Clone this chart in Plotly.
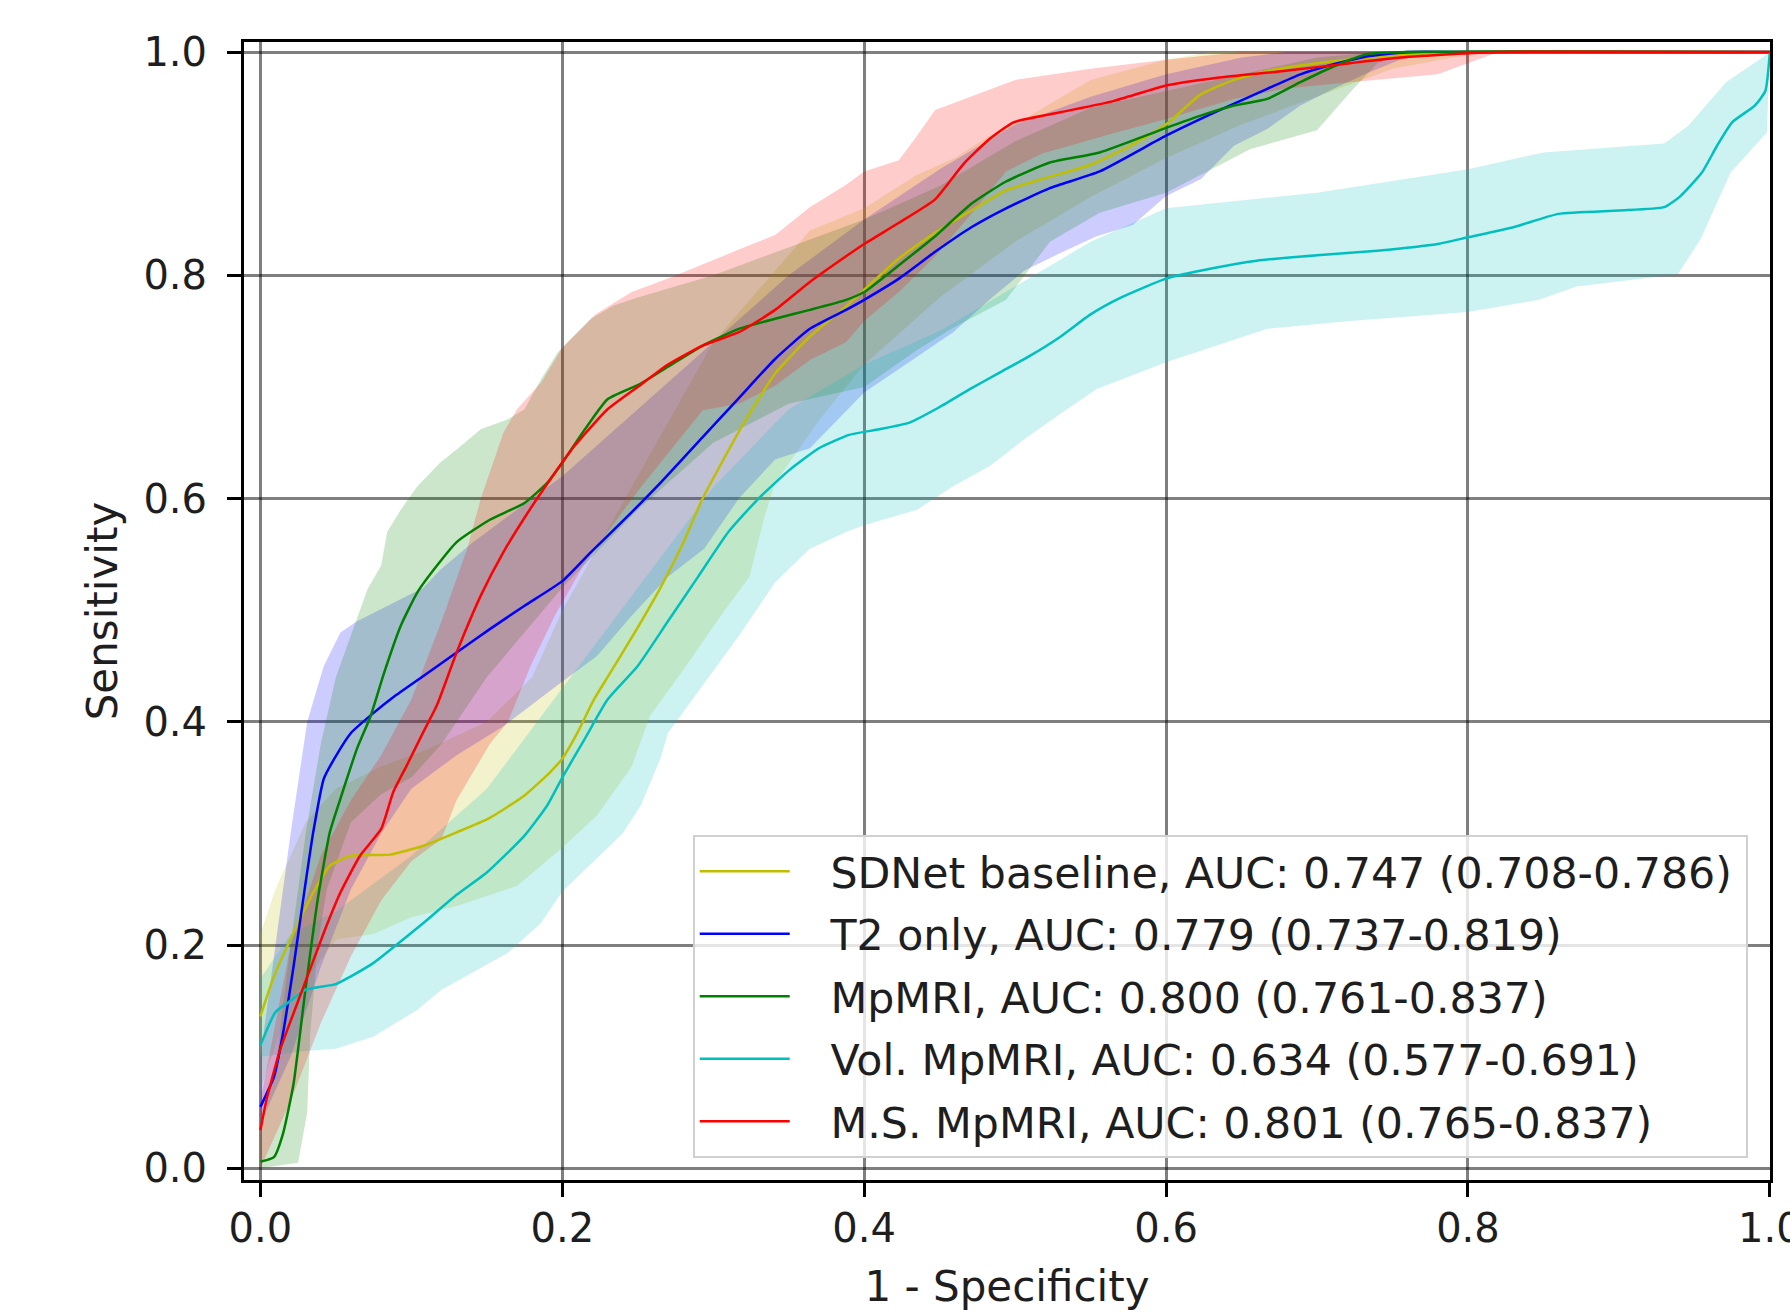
import plotly.graph_objects as go

# ---------------- data ----------------
model_names = ["SDNet baseline", "T2 only", "MpMRI", "Vol. MpMRI", "M.S. MpMRI"]
auc_texts = ["AUC: 0.747 (0.708-0.786)", "AUC: 0.779 (0.737-0.819)",
             "AUC: 0.800 (0.761-0.837)", "AUC: 0.634 (0.577-0.691)",
             "AUC: 0.801 (0.765-0.837)"]
line_colors = ["#bfbf00", "#0000ff", "#008000", "#00bfbf", "#ff0000"]
band_colors = ["rgba(191,191,0,0.2)", "rgba(0,0,255,0.2)", "rgba(0,128,0,0.2)",
               "rgba(0,191,191,0.2)", "rgba(255,0,0,0.2)"]

# SDNet baseline
sdnet_x = [0, 0.009, 0.022, 0.035, 0.046, 0.06, 0.086, 0.108, 0.13, 0.152, 0.175, 0.192, 0.2, 0.21,
           0.221, 0.23, 0.248, 0.265, 0.28, 0.293, 0.317, 0.341, 0.364, 0.388, 0.40, 0.423, 0.447,
           0.471, 0.494, 0.52, 0.55, 0.575, 0.6, 0.623, 0.645, 0.667, 0.70, 0.744, 0.8, 1.0]
sdnet_y = [0.136, 0.172, 0.211, 0.247, 0.271, 0.280, 0.281, 0.289, 0.301, 0.314, 0.334, 0.355, 0.367,
           0.39, 0.42, 0.44, 0.48, 0.52, 0.56, 0.60, 0.66, 0.712, 0.745, 0.772, 0.787, 0.815, 0.838,
           0.858, 0.876, 0.887, 0.899, 0.915, 0.935, 0.962, 0.975, 0.983, 0.990, 0.996, 1.0, 1.0]
sdnet_lo_x = [0, 0.02, 0.05, 0.075, 0.1, 0.13, 0.17, 0.199, 0.223, 0.246, 0.258, 0.282, 0.305, 0.324,
              0.334, 0.341, 0.37, 0.4, 0.45, 0.5, 0.55, 0.6, 0.65, 0.7, 0.75, 0.81, 1.0]
sdnet_lo_y = [0.07, 0.15, 0.205, 0.21, 0.225, 0.235, 0.253, 0.286, 0.316, 0.36, 0.405, 0.45, 0.495,
              0.53, 0.584, 0.614, 0.67, 0.72, 0.78, 0.83, 0.87, 0.905, 0.935, 0.96, 0.985, 1.0, 1.0]
sdnet_hi_x = [0, 0.01, 0.03, 0.05, 0.08, 0.11, 0.15, 0.18, 0.2, 0.25, 0.3, 0.364, 0.4, 0.435, 0.46,
              0.483, 0.506, 0.55, 0.6, 0.63, 1.0]
sdnet_hi_y = [0.21, 0.25, 0.31, 0.34, 0.36, 0.375, 0.40, 0.44, 0.50, 0.62, 0.74, 0.84, 0.86, 0.89,
              0.905, 0.925, 0.94, 0.975, 0.993, 1.0, 1.0]

# T2 only
t2_x = [0, 0.009, 0.015, 0.022, 0.029, 0.035, 0.042, 0.049, 0.06, 0.075, 0.088, 0.108, 0.13, 0.152,
        0.175, 0.2, 0.219, 0.241, 0.265, 0.293, 0.317, 0.341, 0.364, 0.388, 0.40, 0.423, 0.447, 0.471,
        0.494, 0.523, 0.556, 0.6, 0.634, 0.667, 0.689, 0.711, 0.733, 0.76, 0.8, 1.0]
t2_y = [0.055, 0.082, 0.121, 0.181, 0.247, 0.301, 0.349, 0.367, 0.390, 0.408, 0.422, 0.441, 0.462,
        0.483, 0.504, 0.526, 0.552, 0.581, 0.614, 0.655, 0.690, 0.725, 0.752, 0.769, 0.778, 0.797,
        0.821, 0.843, 0.860, 0.878, 0.893, 0.925, 0.947, 0.967, 0.980, 0.989, 0.996, 1.0, 1.0, 1.0]
t2_lo_x = [0, 0.02, 0.04, 0.06, 0.08, 0.1, 0.13, 0.16, 0.199, 0.223, 0.246, 0.27, 0.294, 0.317, 0.341,
           0.364, 0.4, 0.435, 0.459, 0.483, 0.506, 0.53, 0.554, 0.578, 0.6, 0.623, 0.645, 0.667,
           0.689, 0.711, 0.733, 0.755, 0.78, 1.0]
t2_lo_y = [0.04, 0.10, 0.18, 0.25, 0.30, 0.34, 0.37, 0.395, 0.435, 0.459, 0.495, 0.53, 0.555, 0.60,
           0.635, 0.645, 0.695, 0.727, 0.749, 0.778, 0.804, 0.82, 0.835, 0.845, 0.871, 0.886, 0.916,
           0.931, 0.952, 0.967, 0.981, 0.993, 1.0, 1.0]
t2_hi_x = [0, 0.01, 0.02, 0.031, 0.042, 0.053, 0.064, 0.086, 0.108, 0.119, 0.14, 0.17, 0.2, 0.25,
           0.3, 0.35, 0.4, 0.45, 0.5, 0.55, 0.6, 0.65, 0.68, 1.0]
t2_hi_y = [0.1, 0.2, 0.3, 0.40, 0.45, 0.48, 0.49, 0.505, 0.52, 0.536, 0.56, 0.59, 0.62, 0.68, 0.74,
           0.80, 0.85, 0.895, 0.935, 0.96, 0.98, 0.995, 1.0, 1.0]

# MpMRI
mp_x = [0, 0.009, 0.015, 0.022, 0.029, 0.038, 0.046, 0.053, 0.064, 0.073, 0.082, 0.093, 0.104, 0.117,
        0.13, 0.152, 0.175, 0.19, 0.2, 0.215, 0.23, 0.252, 0.27, 0.293, 0.317, 0.341, 0.364, 0.388,
        0.40, 0.423, 0.447, 0.471, 0.494, 0.523, 0.556, 0.6, 0.623, 0.645, 0.667, 0.689, 0.711, 0.733,
        0.76, 1.0]
mp_y = [0.006, 0.010, 0.031, 0.076, 0.151, 0.241, 0.301, 0.331, 0.376, 0.405, 0.444, 0.486, 0.516,
        0.540, 0.561, 0.581, 0.596, 0.614, 0.632, 0.662, 0.689, 0.703, 0.718, 0.737, 0.752, 0.761,
        0.769, 0.778, 0.785, 0.809, 0.835, 0.864, 0.884, 0.901, 0.910, 0.932, 0.943, 0.952, 0.958,
        0.973, 0.987, 0.998, 1.0, 1.0]
mp_lo_x = [0, 0.025, 0.031, 0.033, 0.038, 0.044, 0.06, 0.08, 0.1, 0.12, 0.15, 0.2, 0.25, 0.3, 0.35,
           0.4, 0.435, 0.459, 0.494, 0.523, 0.556, 0.6, 0.656, 0.70, 0.722, 0.74, 0.76, 1.0]
mp_lo_y = [0.0, 0.005, 0.05, 0.12, 0.2, 0.25, 0.31, 0.335, 0.35, 0.38, 0.44, 0.52, 0.59, 0.65, 0.685,
           0.70, 0.733, 0.753, 0.778, 0.83, 0.856, 0.874, 0.913, 0.93, 0.964, 0.99, 1.0, 1.0]
mp_hi_x = [0, 0.01, 0.02, 0.03, 0.04, 0.05, 0.064, 0.071, 0.08, 0.084, 0.093, 0.104, 0.119, 0.13,
           0.146, 0.164, 0.175, 0.186, 0.197, 0.208, 0.219, 0.234, 0.25, 0.3, 0.35, 0.4, 0.45, 0.5,
           0.55, 0.6, 0.65, 0.7, 0.74, 1.0]
mp_hi_y = [0.03, 0.09, 0.2, 0.3, 0.38, 0.44, 0.492, 0.519, 0.54, 0.57, 0.59, 0.611, 0.632, 0.644,
           0.662, 0.671, 0.68, 0.707, 0.731, 0.746, 0.761, 0.773, 0.78, 0.80, 0.825, 0.85, 0.88, 0.92,
           0.95, 0.965, 0.98, 0.995, 1.0, 1.0]

# Vol. MpMRI
vol_x = [0, 0.01, 0.02, 0.03, 0.05, 0.06, 0.075, 0.09, 0.11, 0.13, 0.15, 0.175, 0.19, 0.2, 0.215,
         0.23, 0.25, 0.27, 0.29, 0.31, 0.33, 0.35, 0.37, 0.39, 0.41, 0.43, 0.45, 0.47, 0.49, 0.51,
         0.53, 0.55, 0.57, 0.60, 0.63, 0.66, 0.70, 0.74, 0.78, 0.80, 0.83, 0.86, 0.90, 0.93, 0.94,
         0.955, 0.965, 0.975, 0.99, 0.997, 1.0]
vol_y = [0.11, 0.14, 0.15, 0.16, 0.165, 0.172, 0.184, 0.20, 0.222, 0.245, 0.265, 0.298, 0.325, 0.35,
         0.385, 0.42, 0.45, 0.49, 0.53, 0.57, 0.60, 0.625, 0.645, 0.657, 0.662, 0.668, 0.682, 0.698,
         0.713, 0.728, 0.745, 0.765, 0.78, 0.797, 0.806, 0.813, 0.818, 0.822, 0.828, 0.834, 0.843,
         0.855, 0.858, 0.861, 0.870, 0.892, 0.916, 0.937, 0.952, 0.965, 1.0]
vol_lo_x = [0, 0.03, 0.05, 0.075, 0.104, 0.12, 0.14, 0.164, 0.186, 0.2, 0.22, 0.24, 0.252, 0.265,
            0.27, 0.294, 0.317, 0.341, 0.364, 0.388, 0.4, 0.435, 0.459, 0.483, 0.506, 0.53, 0.554,
            0.6, 0.634, 0.667, 0.722, 0.8, 0.847, 0.872, 0.939, 0.954, 0.974, 0.998, 1.0]
vol_lo_y = [0.10, 0.105, 0.107, 0.118, 0.142, 0.16, 0.175, 0.193, 0.22, 0.248, 0.274, 0.30, 0.325,
            0.367, 0.39, 0.435, 0.477, 0.525, 0.555, 0.57, 0.576, 0.59, 0.611, 0.629, 0.653, 0.676,
            0.698, 0.722, 0.737, 0.752, 0.759, 0.767, 0.778, 0.79, 0.801, 0.832, 0.892, 0.928, 1.0]
vol_hi_x = [0, 0.02, 0.05, 0.1, 0.15, 0.2, 0.25, 0.3, 0.35, 0.4, 0.45, 0.5, 0.55, 0.6, 0.7, 0.8,
            0.85, 0.93, 0.946, 0.971, 0.996, 1.0]
vol_hi_y = [0.17, 0.21, 0.23, 0.28, 0.34, 0.43, 0.52, 0.61, 0.68, 0.72, 0.75, 0.79, 0.83, 0.86,
            0.874, 0.895, 0.91, 0.918, 0.934, 0.973, 0.996, 1.0]

# M.S. MpMRI
ms_x = [0, 0.004, 0.013, 0.027, 0.042, 0.053, 0.066, 0.08, 0.088, 0.097, 0.108, 0.117, 0.13, 0.146,
        0.161, 0.177, 0.192, 0.208, 0.23, 0.252, 0.27, 0.293, 0.317, 0.341, 0.364, 0.388, 0.40,
        0.423, 0.447, 0.466, 0.483, 0.499, 0.53, 0.565, 0.6, 0.634, 0.678, 0.722, 0.755, 0.788,
        0.82, 1.0]
ms_y = [0.034, 0.061, 0.106, 0.157, 0.211, 0.247, 0.280, 0.304, 0.337, 0.361, 0.391, 0.415, 0.462,
        0.513, 0.552, 0.587, 0.617, 0.647, 0.680, 0.702, 0.720, 0.737, 0.749, 0.769, 0.794, 0.817,
        0.828, 0.847, 0.868, 0.900, 0.922, 0.937, 0.946, 0.956, 0.970, 0.977, 0.983, 0.990, 0.995,
        0.998, 1.0, 1.0]
ms_lo_x = [0, 0.02, 0.04, 0.06, 0.08, 0.1, 0.12, 0.13, 0.152, 0.164, 0.179, 0.195, 0.214, 0.23,
           0.252, 0.265, 0.293, 0.317, 0.341, 0.364, 0.388, 0.4, 0.423, 0.447, 0.471, 0.494, 0.518,
           0.567, 0.6, 0.645, 0.678, 0.722, 0.78, 0.8, 0.82, 1.0]
ms_lo_y = [0.0, 0.06, 0.13, 0.19, 0.24, 0.275, 0.295, 0.33, 0.38, 0.40, 0.45, 0.495, 0.54, 0.57,
           0.61, 0.632, 0.679, 0.685, 0.701, 0.724, 0.74, 0.759, 0.785, 0.817, 0.855, 0.893, 0.909,
           0.928, 0.94, 0.958, 0.967, 0.973, 0.98, 0.99, 1.0, 1.0]
ms_hi_x = [0, 0.02, 0.04, 0.06, 0.08, 0.1, 0.12, 0.137, 0.146, 0.161, 0.17, 0.186, 0.2, 0.222, 0.246,
           0.27, 0.293, 0.317, 0.341, 0.364, 0.388, 0.4, 0.423, 0.435, 0.447, 0.47, 0.5, 0.55, 0.6,
           0.65, 1.0]
ms_hi_y = [0.06, 0.2, 0.28, 0.33, 0.37, 0.42, 0.49, 0.555, 0.6, 0.659, 0.68, 0.704, 0.735, 0.765,
           0.785, 0.797, 0.81, 0.823, 0.836, 0.861, 0.881, 0.893, 0.903, 0.925, 0.948, 0.96, 0.975,
           0.985, 0.993, 1.0, 1.0]

tick_vals = [0.0, 0.2, 0.4, 0.6, 0.8, 1.0]
tick_text = ["0.0", "0.2", "0.4", "0.6", "0.8", "1.0"]

means = [(sdnet_x, sdnet_y), (t2_x, t2_y), (mp_x, mp_y), (vol_x, vol_y), (ms_x, ms_y)]
lows = [(sdnet_lo_x, sdnet_lo_y), (t2_lo_x, t2_lo_y), (mp_lo_x, mp_lo_y), (vol_lo_x, vol_lo_y),
        (ms_lo_x, ms_lo_y)]
highs = [(sdnet_hi_x, sdnet_hi_y), (t2_hi_x, t2_hi_y), (mp_hi_x, mp_hi_y), (vol_hi_x, vol_hi_y),
         (ms_hi_x, ms_hi_y)]

FONT = "DejaVu Sans"
TXT = "#1e1e1e"

fig = go.Figure()

# confidence bands (drawn first, below every mean line)
for i in range(len(model_names)):
    lx, ly = lows[i]
    hx, hy = highs[i]
    fig.add_trace(go.Scatter(
        x=list(lx) + list(hx)[::-1], y=list(ly) + list(hy)[::-1],
        mode="lines", line=dict(width=0), fill="toself", fillcolor=band_colors[i],
        hoverinfo="skip", showlegend=False))

# mean ROC curves
for i in range(len(model_names)):
    mx, my = means[i]
    fig.add_trace(go.Scatter(
        x=mx, y=my, mode="lines",
        line=dict(color=line_colors[i], width=2.5, shape="spline", smoothing=0.5),
        name="\u00a0\u00a0\u2009" + model_names[i] + ", " + auc_texts[i] + "\u2009",
        legendgroup=f"g{i}"))

axis_common = dict(
    tickvals=tick_vals, ticktext=tick_text,
    showgrid=True, gridcolor="rgba(0,0,0,0.5)", gridwidth=2.5,
    zeroline=False, showline=True, linecolor="black", linewidth=3, mirror=True,
    ticks="outside", ticklen=14, tickwidth=3, tickcolor="black",
    tickfont=dict(family=FONT, size=40, color=TXT),
    ticklabeloverflow="allow",
    automargin=False,
)

fig.update_layout(
    width=1790, height=1312,
    margin=dict(l=244, r=20, t=42, b=132, pad=0),
    paper_bgcolor="white", plot_bgcolor="white",
    font=dict(family=FONT, color=TXT),
    xaxis=dict(range=[-0.01086, 1.0001], ticklabelstandoff=-3,
               title=dict(text="1 - Specificity", font=dict(family=FONT, size=42, color=TXT),
                          standoff=22),
               **axis_common),
    yaxis=dict(range=[-0.01048, 1.00896], ticklabelstandoff=12,
               title=dict(text="Sensitivity", font=dict(family=FONT, size=42, color=TXT),
                          standoff=13),
               **axis_common),
    legend=dict(x=0.9854, y=0.0193, xanchor="right", yanchor="bottom",
                bgcolor="rgba(255,255,255,0.8)", bordercolor="#d0d0d0", borderwidth=2,
                font=dict(family=FONT, size=42.7, color=TXT),
                itemwidth=90, tracegroupgap=4),
    showlegend=True,
)

fig.write_html("out.html", config={"displayModeBar": False},
               post_script="document.body.style.margin='0px';")
